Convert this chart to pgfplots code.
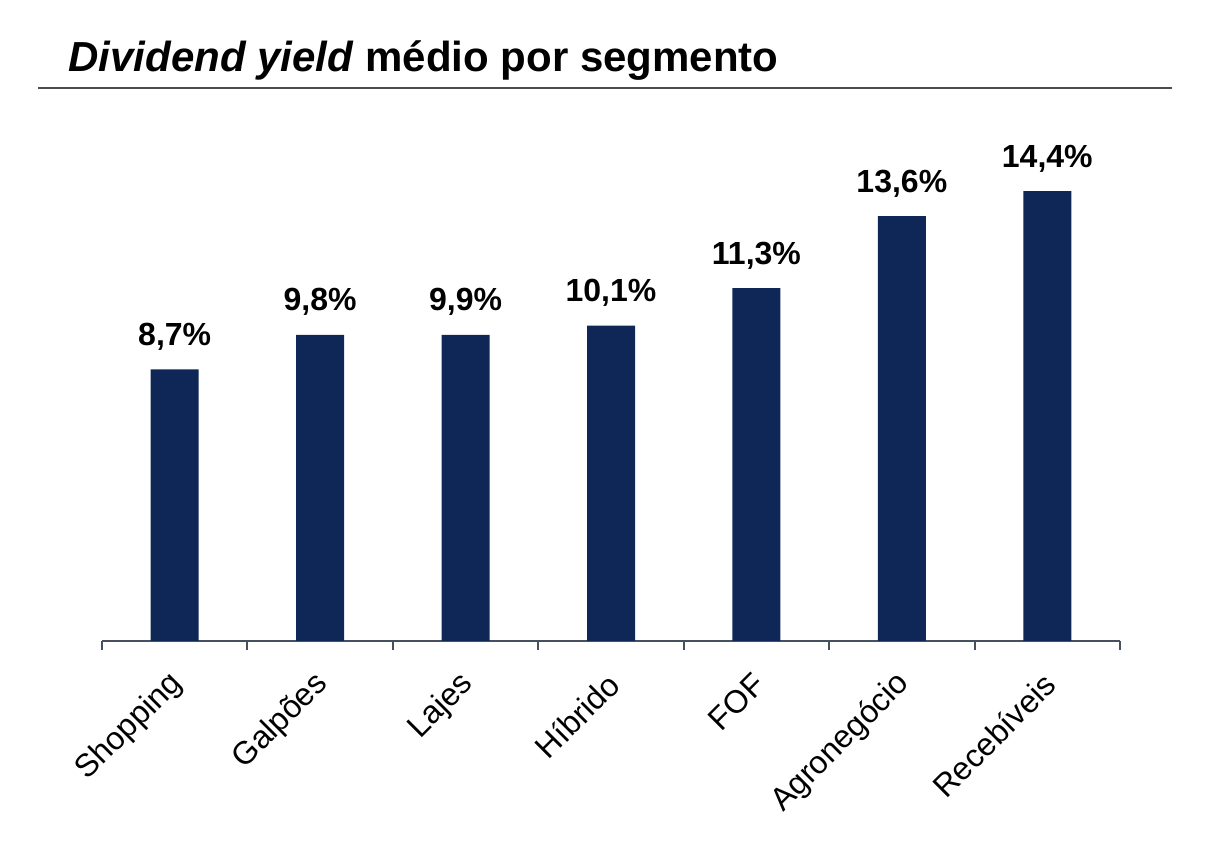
\documentclass[border=0pt]{standalone}
\usepackage{pgfplots}
\pgfplotsset{compat=1.18}
\usepackage{fontspec}
\setmainfont{Liberation Sans}
\definecolor{barblue}{RGB}{14,39,86}
\definecolor{axisgray}{RGB}{70,80,95}
\begin{document}
\begin{tikzpicture}
\path[use as bounding box] (0,0) rectangle (603pt,423pt);
\node[anchor=base west, inner sep=0pt, font=\bfseries\fontsize{21}{25}\selectfont] at (34pt,387pt) {\textit{Dividend yield} médio por segmento};
\draw[line width=1.1pt, color=black!70] (19pt,379pt) -- (586pt,379pt);
\begin{axis}[
  at={(51pt,102.5pt)}, anchor=south west,
  scale only axis, width=509pt, height=265.5pt,
  xmin=-0.5, xmax=6.5, ymin=0, ymax=17,
  axis x line=bottom, axis y line=none,
  x axis line style={-, color=axisgray, line width=1pt},
  xtick={0,...,6},
  xticklabels={Shopping,Galpões,Lajes,Híbrido,FOF,Agronegócio,Recebíveis},
  major tick length=0pt,
  minor xtick={-0.5,0.5,...,6.5},
  minor tick length=4.5pt,
  tick align=outside,
  minor tick style={color=axisgray, line width=1pt},
  xticklabel style={font=\fontsize{16}{19}\selectfont, inner sep=0pt, yshift=-19pt, xshift=1.5pt, rotate=45, anchor=east},
  ybar, bar width=24pt,
  nodes near coords,
  point meta=explicit symbolic,
  nodes near coords style={font=\bfseries\fontsize{16}{19}\selectfont, anchor=base, inner sep=0pt, yshift=12pt},
  clip=false,
]
\addplot[fill=barblue, draw=none] coordinates {
  (0,8.7) [8,7\%]
  (1,9.8) [9,8\%]
  (2,9.8) [9,9\%]
  (3,10.1) [10,1\%]
  (4,11.3) [11,3\%]
  (5,13.6) [13,6\%]
  (6,14.4) [14,4\%]
};
\end{axis}
\end{tikzpicture}
\end{document}
